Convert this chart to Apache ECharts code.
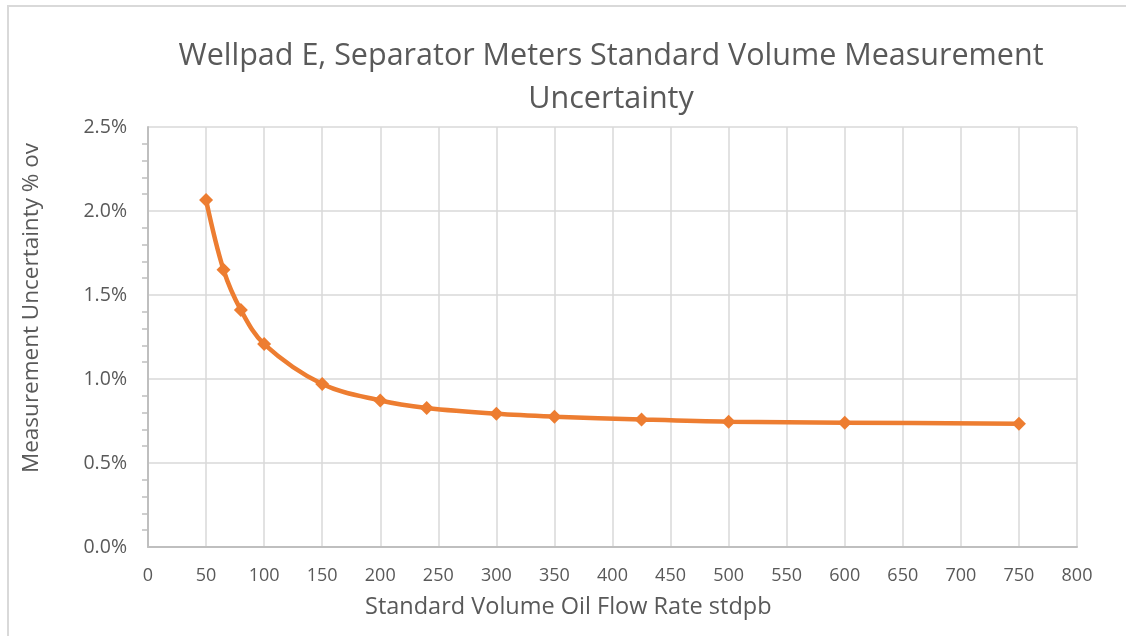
<!DOCTYPE html>
<html>
<head>
<meta charset="utf-8">
<script src="https://cdn.jsdelivr.net/npm/echarts@6/dist/echarts.min.js"></script>
<style>
html,body{margin:0;padding:0;background:#fff;overflow:hidden;}
#frame{position:absolute;left:7px;top:5px;width:1200px;height:700px;border:2px solid #d9d9d9;box-sizing:border-box;}
#chart{position:absolute;left:0;top:0;width:1126px;height:636px;}
</style>
</head>
<body>
<div id="frame"></div>
<div id="chart"></div>
<script>
const titleText = 'Wellpad E, Separator Meters Standard Volume Measurement\nUncertainty';
const xAxisName = 'Standard Volume Oil Flow Rate stdpb';
const yAxisName = 'Measurement Uncertainty % ov';
const flowRates = [50, 65, 80, 100, 150, 200, 240, 300, 350, 425, 500, 600, 750];
const uncertaintyPct = [2.065, 1.650, 1.410, 1.208, 0.970, 0.872, 0.828, 0.793, 0.776, 0.759, 0.746, 0.740, 0.734];

const chart = echarts.init(document.getElementById('chart'), null, {renderer: 'canvas'});
const textColor = '#595959';
const font = 'Open Sans';
chart.setOption({
  backgroundColor: 'transparent',
  animation: false,
  title: {
    text: titleText,
    left: 606,
    textAlign: 'center',
    top: 30,
    textStyle: {color: textColor, fontFamily: font, fontSize: 30.5, fontWeight: 'normal', lineHeight: 43}
  },
  graphic: [
    {type: 'text', left: 570 - 205, top: 595,
      style: {text: xAxisName, fill: textColor, font: '23.5px "Open Sans"'}},
    {type: 'text', x: 32, y: 308, rotation: Math.PI / 2,
      style: {text: yAxisName, fill: textColor, font: '22.5px "Open Sans"', align: 'center', verticalAlign: 'middle'}}
  ],
  grid: {left: 148, right: 49, top: 127, bottom: 89, containLabel: false},
  xAxis: {
    type: 'value', min: 0, max: 800, interval: 50,
    axisLine: {show: true, lineStyle: {color: '#bfbfbf', width: 2}},
    axisTick: {show: false},
    axisLabel: {color: textColor, fontFamily: font, fontSize: 18, margin: 20},
    splitLine: {show: true, lineStyle: {color: '#d9d9d9', width: 1.5}}
  },
  yAxis: {
    type: 'value', min: 0, max: 2.5, interval: 0.5,
    axisLine: {show: true, lineStyle: {color: '#bfbfbf', width: 2}},
    axisTick: {show: false},
    minorTick: {show: true, splitNumber: 5, length: 6, lineStyle: {color: '#bfbfbf', width: 1.5}},
    axisLabel: {color: textColor, fontFamily: font, fontSize: 19.5, margin: 21,
      formatter: v => v.toFixed(1) + '%'},
    splitLine: {show: true, lineStyle: {color: '#d9d9d9', width: 1.5}}
  },
  series: [{
    type: 'line',
    data: flowRates.map((x, i) => [x, uncertaintyPct[i]]),
    smooth: 0.35,
    symbol: 'diamond',
    symbolSize: 14,
    itemStyle: {color: '#ED7D31'},
    lineStyle: {color: '#ED7D31', width: 4.5}
  }]
});
</script>
</body>
</html>
